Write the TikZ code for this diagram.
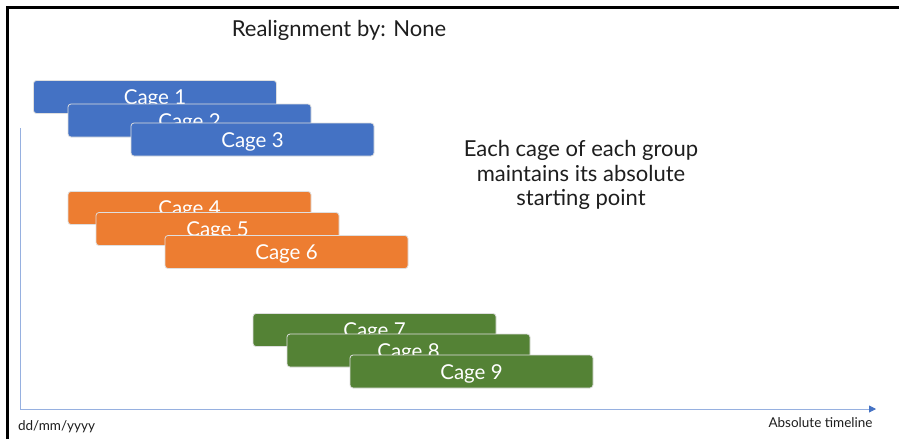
\documentclass[tikz,border=0pt]{standalone}
\usepackage{fontspec}
\setmainfont{Lato}
\usetikzlibrary{arrows.meta}
\definecolor{cblue}{RGB}{68,114,196}
\definecolor{corange}{RGB}{237,125,49}
\definecolor{cgreen}{RGB}{84,130,53}
\definecolor{axisblue}{RGB}{150,176,224}
\definecolor{txt}{RGB}{30,30,30}
\tikzset{
  cage/.style={fill=#1, draw=white!75!gray, line width=0.8pt, rounded corners=3pt,
    minimum width=243pt, minimum height=33pt, inner sep=0pt, text=white,
    text height=15pt, text depth=0pt,
    font=\fontsize{20.5}{24}\selectfont},
  lbl/.style={text=txt, inner sep=0pt},
}
\begin{document}
\begin{tikzpicture}[x=1pt,y=-1pt]
\useasboundingbox (0,0) rectangle (899,439);
\fill[white] (0,0) rectangle (899,439);
% frame
\draw[black, line width=2.2pt] (7.5,439) -- (7.5,7.5) -- (899,7.5);
% title
\node[lbl, anchor=base, font=\fontsize{22}{26}\selectfont] (title) at (339,36.5) {Realignment by: None};
% axis
\coordinate (axtop) at (20,128);
\coordinate (ax0) at (20,409);
\coordinate (axend) at (876,409);
\draw[axisblue, line width=0.9pt] (axtop) -- (ax0);
\draw[axisblue, line width=0.9pt, -{Triangle[length=7pt,width=7pt,color=cblue]}] (ax0) -- (axend);
% cages
\node[cage=cblue] (c1) at (155,97) {Cage 1};
\node[cage=cblue] (c2) at (189.5,120.5) {Cage 2};
\node[cage=cblue] (c3) at (252.5,139.5) {Cage 3};
\node[cage=corange] (c4) at (189.5,208) {Cage 4};
\node[cage=corange] (c5) at (217.5,229) {Cage 5};
\node[cage=corange] (c6) at (286.5,252) {Cage 6};
\node[cage=cgreen] (c7) at (374.5,330) {Cage 7};
\node[cage=cgreen] (c8) at (408.5,350.5) {Cage 8};
\node[cage=cgreen] (c9) at (471.5,371.5) {Cage 9};
% note
\node[lbl, align=center, font=\fontsize{22}{24.5}\selectfont] (note) at (581,175)
  {Each cage of each group\\maintains its absolute\\starting point};
% axis labels
\node[lbl, anchor=base, font=\fontsize{13.5}{15}\selectfont] (date) at (56.5,430) {dd/mm/yyyy};
\node[lbl, anchor=base, font=\fontsize{13.5}{15}\selectfont] (abs) at (820.5,427) {Absolute timeline};
\end{tikzpicture}
\end{document}
